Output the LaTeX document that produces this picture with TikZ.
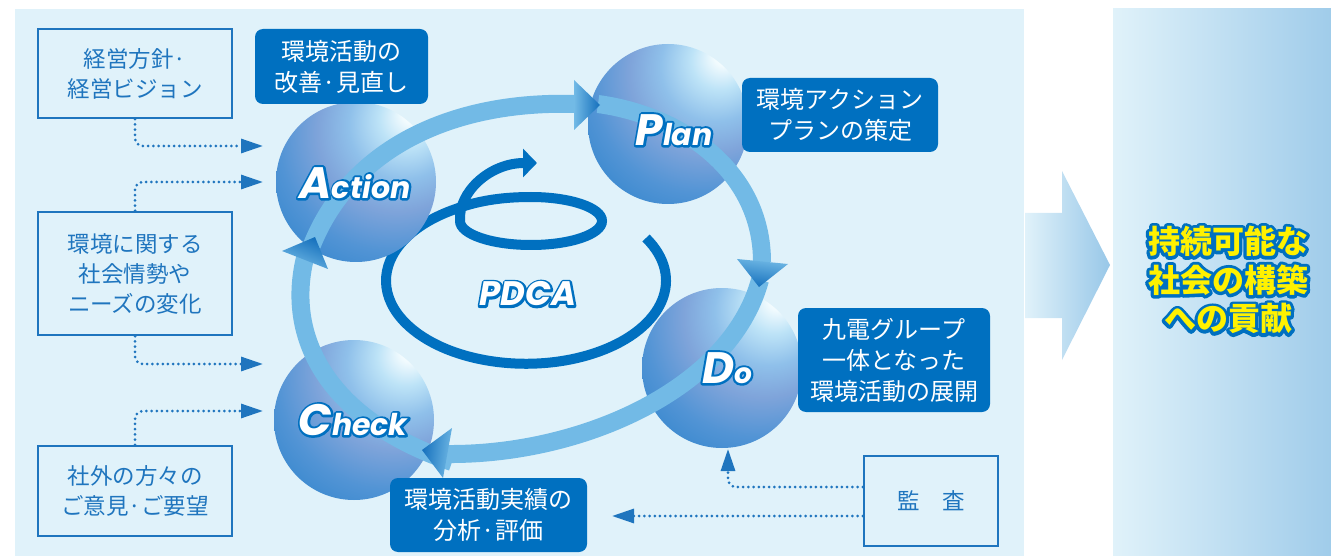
\documentclass[tikz,border=0pt]{standalone}
\usepackage{fontspec}
\setmainfont{Noto Sans CJK JP}
\newfontfamily\pdcafont{Poppins}
\usetikzlibrary{arrows.meta,positioning,calc}

\definecolor{panel}{HTML}{E0F2FA}
\definecolor{panelend}{HTML}{A0CCEA}
\definecolor{deep}{HTML}{0070C0}
\definecolor{frame}{HTML}{1F75BE}
\definecolor{band}{HTML}{72BAE6}
\definecolor{bandtip}{HTML}{146FBC}
\definecolor{goalfill}{HTML}{FFF100}
\definecolor{hilite}{HTML}{F2FBFE}
\definecolor{glow}{HTML}{BDE3F7}
\definecolor{skyblue}{HTML}{8FC0EA}
\definecolor{lilac}{HTML}{7FA4DA}
\definecolor{midblue}{HTML}{5294D5}
\definecolor{rimblue}{HTML}{3486CD}
\definecolor{darkrim}{HTML}{2277C2}

% glossy ball, light spot up and to the right
\pgfdeclareradialshading{glass}{\pgfpoint{18bp}{22bp}}{%
  color(0bp)=(hilite); color(3bp)=(hilite); color(9bp)=(glow);
  color(17bp)=(skyblue); color(25bp)=(lilac); color(35bp)=(midblue);
  color(45bp)=(rimblue); color(56bp)=(darkrim); color(90bp)=(darkrim)}

% text with a coloured rim: #2 rim colour, #3 fill colour
\newcommand\outlined[4][2pt]{%
  \pgfmathsetmacro\olw{2*#1}%
  \leavevmode
  \rlap{\color{#2}\special{pdf:literal direct 2 Tr \olw\space w 1 j}#4%
    \special{pdf:literal direct 0 Tr}}%
  {\color{#3}#4}}

\begin{document}
\begin{tikzpicture}[x=1pt,y=-1pt,
  inbox/.style={draw=frame,line width=2.5pt,fill=panel,text=frame,align=center,
                font=\fontsize{22.5}{30}\selectfont,minimum width=194pt},
  tagbox/.style={fill=deep,rounded corners=8pt,text=white,align=center,
                 font=\fontsize{24}{31}\selectfont},
  globe/.style={circle,shade,shading=glass,minimum size=160pt,inner sep=0pt},
  stage/.style={font=\pdcafont\bfseries\itshape,inner sep=0pt},
  feed/.style={draw=frame,line width=3pt,dash pattern=on 0pt off 5.2pt,
               line cap=round,rounded corners=8pt,
               -{Triangle[length=22pt,width=14pt]}},
  loopband/.style={draw=band,line width=18pt},
  coil/.style={draw=deep,line width=10pt,-{Triangle[length=14pt,width=28pt]}},
  bandhead/.style={top color=band,bottom color=bandtip}
]
\useasboundingbox (0,0) rectangle (1331,556);

% panels and the big arrow between them
\fill[panel] (15,9) rectangle (1024,556);
\shade[left color=panel,right color=panelend] (1113,9) rectangle (1331,556);
\shade[left color=panel,right color=panelend!95!deep] (1025,213) -- (1062,213)
  -- (1062,171) -- (1110,265) -- (1062,360) -- (1062,318) -- (1025,318) -- cycle;

% inputs on the left
\node[inbox,minimum height=89pt] (policy) at (135,73.5) {経営方針·\\経営ビジョン};
\node[inbox,minimum height=123pt] (trend) at (135,273.5) {環境に関する\\社会情勢や\\ニーズの変化};
\node[inbox,minimum height=90pt] (voice) at (135,491) {社外の方々の\\ご意見·ご要望};

\coordinate (toact1) at (263,146);
\coordinate (toact2) at (263,182);
\coordinate (tochk1) at (263,364);
\coordinate (tochk2) at (263,411);
\draw[feed] (policy.south) |- (toact1);
\draw[feed] (trend.north) |- (toact2);
\draw[feed] (trend.south) |- (tochk1);
\draw[feed] (voice.north) |- (tochk2);

% PDCA spiral
\draw[coil] (646,238) arc[start angle=-31,end angle=240,x radius=140,y radius=83]
  .. controls (480,200) and (505,197) .. (531,197)
  arc[start angle=-90,end angle=180,x radius=71,y radius=24]
  .. controls (458,192) and (490,163) .. (537,163);

% the four balls
\node[globe] (act) at (356,182) {};
\node[globe] (plan) at (668,124) {};
\node[globe] (do) at (722,368) {};
\node[globe] (chk) at (354,420) {};

% cycle band
\draw[loopband] ($(chk)+(98,42)$) .. controls (330,420) and (285,340) .. ($(act)+(-51,76)$);
\draw[loopband] ($(act)+(-44,63)$) .. controls (350,150) and (450,100) .. ($(plan)+(-92,-20)$);
\draw[loopband] ($(plan)+(-70,-20)$) .. controls (680,115) and (762,170) .. ($(do)+(40,-106)$);
\draw[loopband] ($(do)+(38,-88)$) .. controls (730,390) and (580,455) .. ($(chk)+(94,34)$);
\shade[bandhead,shading angle=156.5] (282,251) -- (315,237) -- (328,269) -- cycle;
\shade[bandhead,shading angle=90] (574,80) -- (600,105) -- (574,130) -- cycle;
\shade[bandhead,shading angle=-7.8] (737,259) -- (759,287) -- (788,264) -- cycle;
\shade[bandhead,shading angle=263.3] (452,428) -- (422,450) -- (443,478) -- cycle;

% stage names
\node[stage] (actname) at (355,183) {\outlined[2.2pt]{deep}{white}{\fontsize{44}{44}\selectfont A\fontsize{30}{30}\selectfont ction}};
\node[stage] (planname) at (674,130) {\outlined[2.2pt]{deep}{white}{\fontsize{44}{44}\selectfont P\fontsize{30}{30}\selectfont lan}};
\node[stage] (doname) at (727,368) {\outlined[2.2pt]{deep}{white}{\fontsize{44}{44}\selectfont D\fontsize{28}{28}\selectfont o}};
\node[stage] (chkname) at (353,420) {\outlined[2.2pt]{deep}{white}{\fontsize{44}{44}\selectfont C\fontsize{30}{30}\selectfont heck}};
\node[stage] (pdca) at (528,294) {\outlined[2.2pt]{deep}{white}{\fontsize{34}{34}\selectfont PDCA}};

% what each stage does
\node[tagbox,minimum width=173pt,minimum height=75pt] (acttag) at (341.5,66.5) {環境活動の\\改善·見直し};
\node[tagbox,minimum width=196pt,minimum height=74pt] (plantag) at (840,115) {環境アクション\\プランの策定};
\node[tagbox,minimum width=192pt,minimum height=104pt] (dotag) at (894,360) {九電グループ\\一体となった\\環境活動の展開};
\node[tagbox,minimum width=197pt,minimum height=74pt] (chktag) at (488.5,515) {環境活動実績の\\分析·評価};

% audit
\node[inbox,minimum width=134pt,minimum height=90pt] (audit) at (931,501) {監　査};
\coordinate (todo) at (728,449);
\coordinate (tochk3) at (612,516);
\draw[feed] ([yshift=14pt]audit.west) -| (todo);
\draw[feed] ([yshift=-15pt]audit.west) -- (tochk3);

% outcome
\node[font=\bfseries\fontsize{32}{37}\selectfont] (goal) at (1228,284)
  {\outlined[3.2pt]{deep}{goalfill}{\begin{tabular}{@{}c@{}}持続可能な\\社会の構築\\への貢献\end{tabular}}};
\end{tikzpicture}
\end{document}
